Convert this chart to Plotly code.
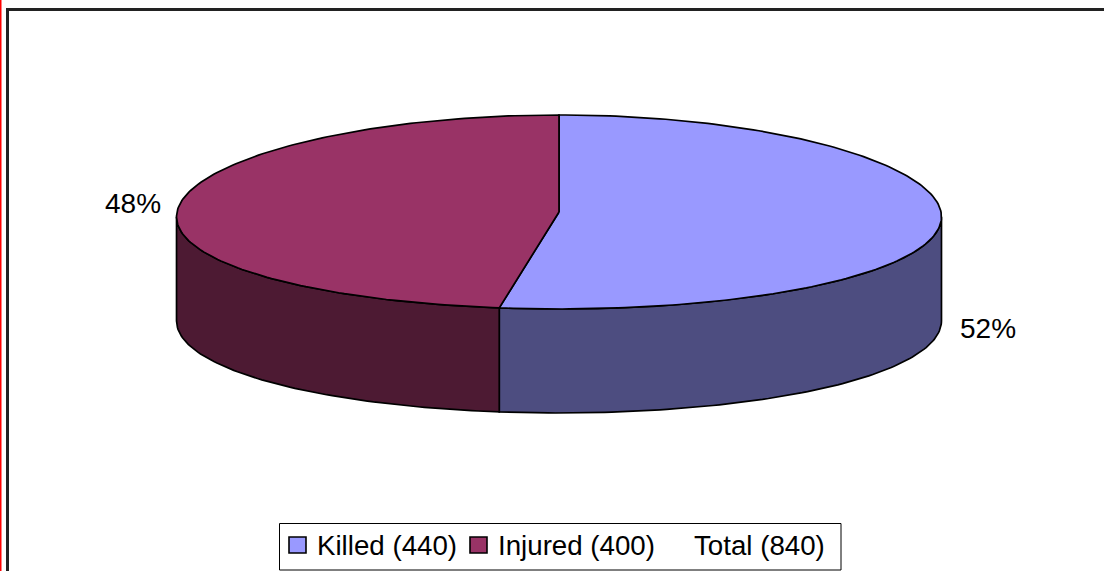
import math
import plotly.graph_objects as go

categories = ["Killed", "Injured"]
values = [440, 400]
total_label = "Total"
top_colors = ["#9999FF", "#993366"]
side_colors = ["#4D4D80", "#4D1A33"]

W, H = 1104, 571
CX, CY, RX, RY, DEPTH, PERSP = 559, 212, 382, 97, 104, 0.05
total = sum(values)


def pt(a, dy=0):
    # slight perspective: the near rim is drawn a little wider than the far rim
    return CX + RX * math.sin(a) * (1 - PERSP * math.cos(a)), CY - RY * math.cos(a) + dy


def arc(a0, a1, dy=0):
    n = max(2, int(abs(a1 - a0) / (math.pi / 180)))
    return [pt(a0 + (a1 - a0) * i / n, dy) for i in range(n + 1)]


fig = go.Figure()
OUT = dict(color="#000000", width=1.7)


def poly(points, color, name):
    xs = [p[0] for p in points] + [points[0][0]]
    ys = [p[1] for p in points] + [points[0][1]]
    fig.add_trace(go.Scatter(x=xs, y=ys, mode="lines", fill="toself", fillcolor=color,
                             line=OUT, name=name, showlegend=False, hoverinfo="name"))


# slice angles, clockwise from 12 o'clock
angles = [0.0]
for v in values:
    angles.append(angles[-1] + 2 * math.pi * v / total)

# side walls: the visible rim runs between the two widest points of the top face
for i, cat in enumerate(categories):
    a0 = max(angles[i], math.pi / 2 + PERSP)
    a1 = min(angles[i + 1], 3 * math.pi / 2 - PERSP)
    if a1 > a0:
        top = arc(a0, a1)
        bottom = arc(a1, a0, DEPTH)
        poly(top + bottom, side_colors[i], cat + " side")

# top faces
for i, cat in enumerate(categories):
    poly([(CX, CY)] + arc(angles[i], angles[i + 1]), top_colors[i], cat)

annotations = []
# percentage labels
label_pos = [(988, 328), (133, 203)]
for v, (lx, ly) in zip(values, label_pos):
    annotations.append(dict(x=lx, y=ly, text=f"{round(100 * v / total)}%", showarrow=False,
                            xref="x", yref="y", font=dict(size=28, color="#000000")))

# legend
legend_x = [315, 496, 692]
legend_texts = [f"{c} ({v})" for c, v in zip(categories, values)] + [f"{total_label} ({total})"]
for lx, t in zip(legend_x, legend_texts):
    annotations.append(dict(x=lx, y=545, text=t, showarrow=False, xanchor="left",
                            xref="x", yref="y", font=dict(size=27.7, color="#000000")))

shapes = [
    # red page rule and chart frame
    dict(type="line", x0=0.5, x1=0.5, y0=0, y1=H, line=dict(color="#FF0000", width=2)),
    dict(type="line", x0=7.5, x1=7.5, y0=9, y1=H, line=dict(color="#222222", width=3)),
    dict(type="line", x0=6, x1=W, y0=9.5, y1=9.5, line=dict(color="#222222", width=3)),
    # legend box and swatches
    dict(type="rect", x0=279.5, x1=841, y0=523.5, y1=570, line=dict(color="#000000", width=1),
         fillcolor="#FFFFFF"),
    dict(type="rect", x0=289, x1=306, y0=537, y1=553, line=dict(color="#000000", width=1.6),
         fillcolor=top_colors[0]),
    dict(type="rect", x0=470, x1=487, y0=537, y1=553, line=dict(color="#000000", width=1.6),
         fillcolor=top_colors[1]),
]

fig.update_layout(
    width=W, height=H, margin=dict(l=0, r=0, t=0, b=0),
    paper_bgcolor="#FFFFFF", plot_bgcolor="#FFFFFF", showlegend=False,
    font=dict(family="Liberation Sans, Arial, sans-serif"),
    xaxis=dict(range=[0, W], visible=False, fixedrange=True),
    yaxis=dict(range=[H, 0], visible=False, fixedrange=True),
    shapes=shapes, annotations=annotations,
)
fig.write_html("out.html", config={"displayModeBar": False},
               post_script="document.body.style.margin='0';document.body.style.overflow='hidden';")
